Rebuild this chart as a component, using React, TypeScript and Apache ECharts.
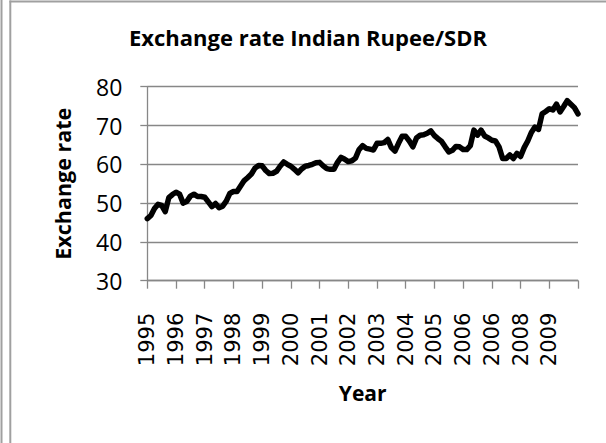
import React, { useEffect, useRef } from "react";
import * as echarts from "echarts";

const yearLabels = [
  "1995", "1996", "1997", "1998", "1999", "2000", "2001", "2002",
  "2003", "2004", "2005", "2006", "2006", "2008", "2009",
];

const pointsPerYear = 8;

const rates = [
  46.0, 46.8, 48.6, 49.7, 49.4, 47.8, 51.4, 52.2,
  52.8, 52.3, 50.0, 50.4, 51.8, 52.3, 51.7, 51.7,
  51.5, 50.3, 49.1, 49.9, 48.8, 49.2, 50.5, 52.5,
  53.0, 53.0, 54.4, 55.8, 56.6, 57.5, 59.0, 59.7,
  59.6, 58.4, 57.6, 57.7, 58.2, 59.5, 60.6, 60.0,
  59.5, 58.7, 57.8, 58.8, 59.5, 59.7, 60.0, 60.4,
  60.5, 59.6, 58.9, 58.7, 58.7, 60.5, 61.8, 61.3,
  60.7, 60.9, 61.6, 63.8, 64.8, 64.1, 63.9, 63.7,
  65.4, 65.4, 65.6, 66.4, 64.3, 63.4, 65.4, 67.2,
  67.2, 66.0, 64.5, 66.8, 67.5, 67.6, 68.0, 68.6,
  67.4, 66.6, 65.9, 64.5, 63.2, 63.6, 64.6, 64.5,
  63.8, 63.8, 64.8, 68.8, 67.5, 68.8, 67.3, 66.8,
  66.2, 66.0, 64.5, 61.5, 61.5, 62.4, 61.5, 62.8,
  62.0, 64.3, 66.0, 68.2, 69.6, 69.0, 73.0, 73.6,
  74.3, 74.0, 75.5, 73.5, 74.9, 76.4, 75.5, 74.6,
  73.0,
];

const categories = rates.map((_, i) =>
  i % pointsPerYear === 0 ? yearLabels[i / pointsPerYear] ?? "" : ""
);

const GRID = "#878787";
const FRAME = "#a0a0a0";

export default function App() {
  const ref = useRef<HTMLDivElement>(null);

  useEffect(() => {
    if (!ref.current) return;
    const chart = echarts.init(ref.current, undefined, { renderer: "svg" });
    chart.setOption({
      animation: false,
      backgroundColor: "#ffffff",
      title: {
        text: "Exchange rate Indian Rupee/SDR",
        left: 308,
        top: 26,
        textAlign: "center",
        padding: 0,
        textStyle: {
          fontFamily: "Open Sans",
          fontWeight: "bold",
          fontSize: 22,
          color: "#000",
        },
      },
      graphic: [
        { type: "line", shape: { x1: 1.5, y1: 0, x2: 1.5, y2: 443 }, style: { stroke: FRAME, lineWidth: 2 } },
        { type: "line", shape: { x1: 10.3, y1: 0.5, x2: 10.3, y2: 443 }, style: { stroke: FRAME, lineWidth: 2 } },
        { type: "line", shape: { x1: 9.5, y1: 1.5, x2: 606, y2: 1.5 }, style: { stroke: FRAME, lineWidth: 2 } },
      ],
      grid: {
        left: 147.3,
        right: 28,
        top: 86.7,
        bottom: 162.3,
        containLabel: false,
      },
      xAxis: {
        type: "category",
        data: categories,
        boundaryGap: false,
        name: "Year",
        nameLocation: "middle",
        nameGap: 102,
        nameTextStyle: {
          fontFamily: "Open Sans",
          fontWeight: "bold",
          fontSize: 21,
          color: "#000",
        },
        axisLine: { show: true, lineStyle: { color: GRID, width: 1.3 } },
        axisTick: { show: true, interval: pointsPerYear - 1, length: 8, lineStyle: { color: GRID, width: 1.3 } },
        axisLabel: {
          interval: pointsPerYear - 1,
          rotate: 90,
          margin: 32,
          fontFamily: "DejaVu Sans",
          fontSize: 21,
          color: "#000",
        },
        splitLine: { show: false },
      },
      yAxis: {
        type: "value",
        min: 30,
        max: 80,
        interval: 10,
        name: "Exchange rate",
        nameLocation: "middle",
        nameGap: 74,
        nameTextStyle: {
          fontFamily: "Open Sans",
          fontWeight: "bold",
          fontSize: 21.5,
          color: "#000",
        },
        axisLine: { show: true, lineStyle: { color: GRID, width: 1.3 } },
        axisTick: { show: true, length: 7, lineStyle: { color: GRID, width: 1.3 } },
        axisLabel: {
          margin: 25,
          fontFamily: "Open Sans",
          fontSize: 23,
          color: "#000",
        },
        splitLine: { show: true, lineStyle: { color: GRID, width: 1.3 } },
      },
      series: [
        {
          type: "line",
          data: rates,
          showSymbol: false,
          symbol: "none",
          lineStyle: { color: "#000", width: 5.5, cap: "round", join: "round" },
        },
      ],
    });
    return () => chart.dispose();
  }, []);

  return (
    <div
      ref={ref}
      style={{ position: "absolute", left: 0, top: 0, width: 606, height: 443 }}
    />
  );
}
